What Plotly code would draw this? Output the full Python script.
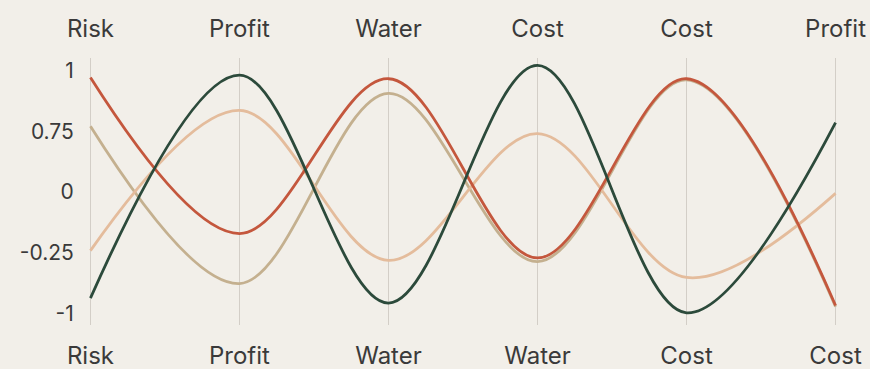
import plotly.graph_objects as go

# axis labels (top and bottom rows differ)
top_labels = ["Risk", "Profit", "Water", "Cost", "Cost", "Profit"]
bottom_labels = ["Risk", "Profit", "Water", "Water", "Cost", "Cost"]
axis_pos = [0, 1, 2, 3, 4, 5]

y_tickvals = [1, 0.5, 0, -0.5, -1]
y_ticktext = ["1", "0.75", "0", "-0.25", "-1"]

# series values
red = [0.94, -0.34, 0.93, -0.54, 0.93, -0.93]
green = [-0.87, 0.96, -0.91, 1.04, -0.99, 0.57]
khaki = [0.54, -0.75, 0.81, -0.57, 0.92, -0.94]
peach = [-0.48, 0.67, -0.56, 0.48, -0.70, -0.01]

series = [
    ("khaki", khaki, "#c4b08f"),
    ("peach", peach, "#e4bc9c"),
    ("red", red, "#c4573d"),
    ("green", green, "#2c4a3b"),
]

fig = go.Figure()
for name, vals, col in series:
    fig.add_trace(go.Scatter(
        x=axis_pos, y=vals, mode="lines", name=name,
        line=dict(color=col, width=2.8, shape="spline", smoothing=1),
        showlegend=False,
    ))

# invisible trace to carry the top axis
fig.add_trace(go.Scatter(x=axis_pos, y=[0] * len(axis_pos), xaxis="x2",
                         mode="markers", marker=dict(opacity=0),
                         showlegend=False, hoverinfo="skip"))

label_font = dict(family="Inter", size=24, color="#3a3a3a")
tick_font = dict(family="Inter", size=21, color="#3a3a3a")

fig.update_layout(
    width=870, height=369,
    margin=dict(l=83, r=27, t=58, b=44),
    paper_bgcolor="#f2efe9",
    plot_bgcolor="#f2efe9",
    xaxis=dict(
        range=[-0.05, 5.05], tickvals=axis_pos, ticktext=bottom_labels,
        showgrid=True, gridcolor="#d3cec7", gridwidth=1, zeroline=False,
        showline=False, ticks="outside", ticklen=9, tickcolor="rgba(0,0,0,0)",
        tickfont=label_font, automargin=False,
    ),
    xaxis2=dict(
        range=[-0.05, 5.05], tickvals=axis_pos, ticktext=top_labels,
        overlaying="x", side="top", showgrid=False, zeroline=False,
        showline=False, ticks="outside", ticklen=10, tickcolor="rgba(0,0,0,0)",
        tickfont=label_font, automargin=False,
    ),
    yaxis=dict(
        range=[-1.09, 1.1], tickvals=y_tickvals, ticktext=y_ticktext,
        showgrid=False, zeroline=False, showline=False,
        ticks="outside", ticklen=4, tickcolor="rgba(0,0,0,0)",
        tickfont=tick_font, automargin=False,
    ),
)

fig.write_html("out.html", config={"displayModeBar": False},
               post_script="document.body.style.margin='0';")
